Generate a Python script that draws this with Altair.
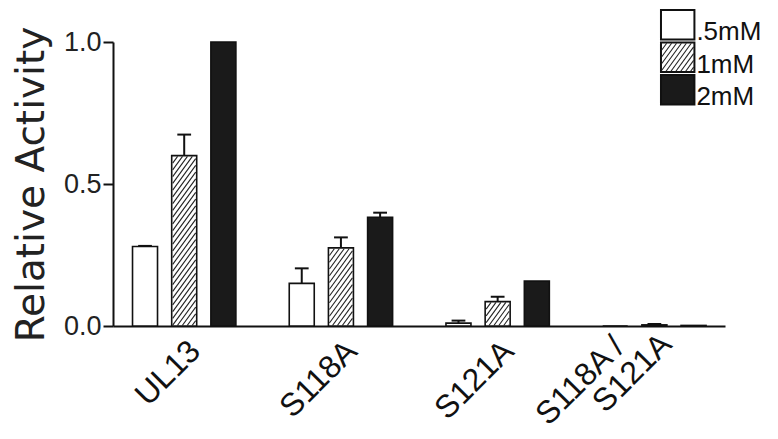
import altair as alt
import pandas as pd

# ---------------- data ----------------
categories = ["UL13", "S118A", "S121A", "S118A / S121A"]
series = [".5mM", "1mM", "2mM"]
values_05 = [0.280, 0.150, 0.010, 0.000]
values_1 = [0.600, 0.275, 0.086, 0.004]
values_2 = [1.000, 0.383, 0.158, 0.002]
errors_05 = [0.002, 0.053, 0.009, 0.000]
errors_1 = [0.074, 0.037, 0.017, 0.003]
errors_2 = [0.000, 0.016, 0.000, 0.000]
y_ticks = [0.0, 0.5, 1.0]
label_lines = [["UL13"], ["S118A"], ["S121A"], ["S118A /", "S121A"]]

# ---------------- geometry ----------------
W, H = 612, 284
X_DOMAIN = [-0.4224, 3.4187]
SX = W / (X_DOMAIN[1] - X_DOMAIN[0])
SY = H / 1.0
BAR_W = 25
IN_STEP = 0.25
BLACK = "#1a1a1a"
LINE = "#111111"


def px_to_x(px):
    return X_DOMAIN[0] + px / SX


def py_to_y(py):
    return 1.0 - py / SY


def hatch(x0, x1, y0, y1, k=1.35, p=5.0):
    """'/' hatch lines inside a pixel rect (y down), returned in data units."""
    out = []
    c = x0 - (y1 - y0) / k
    while c < x1:
        u0 = max(0.0, x0 - c)
        u1 = min((y1 - y0) / k, x1 - c)
        if u1 - u0 > 0.3:
            out.append({
                "hx": px_to_x(c + u0), "hy": py_to_y(y1 - k * u0),
                "hx2": px_to_x(c + u1), "hy2": py_to_y(y1 - k * u1),
            })
        c += p
    return out


vals = [values_05, values_1, values_2]
errs = [errors_05, errors_1, errors_2]
rows = []
for gi, cat in enumerate(categories):
    for si, s in enumerate(series):
        pos = gi + (si - 1) * IN_STEP
        v = vals[si][gi]
        e = errs[si][gi]
        rows.append({
            "category": cat, "series": s, "pos": pos, "value": v,
            "err": e, "top": v + e,
            "capL": pos - 7 / SX, "capR": pos + 7 / SX,
        })
df = pd.DataFrame(rows)
df_err = df[df["err"] > 0.0015]

# hatch lines for the 1mM bars
hrows = []
for r in rows:
    if r["series"] == "1mM" and r["value"] * SY > 2:
        cx = (r["pos"] - X_DOMAIN[0]) * SX
        hrows += hatch(cx - BAR_W / 2 + 0.8, cx + BAR_W / 2 - 0.8,
                       H - r["value"] * SY + 0.8, H - 0.5)
df_h = pd.DataFrame(hrows)

# x labels
lrows = []
for gi, lines in enumerate(label_lines):
    for li, t in enumerate(lines):
        if len(lines) == 1:
            dxp, dyp = 11, -2
        elif li == 0:
            dxp, dyp = -36, -6
        else:
            dxp, dyp = 12, -9
        lrows.append({"text": t, "lx": gi + dxp / SX, "ly": py_to_y(H + 22 + dyp)})
df_l = pd.DataFrame(lrows)

# legend
legrows, legtext, leghatch = [], [], []
box_x0, box_x1 = 552, 586
for si, s in enumerate(series):
    y0 = -32 + si * 32.5
    y1 = y0 + 29.5
    legrows.append({"series": s, "bx": px_to_x(box_x0), "bx2": px_to_x(box_x1),
                    "by": py_to_y(y0), "by2": py_to_y(y1)})
    legtext.append({"text": s, "tx": px_to_x(588), "ty": py_to_y(y1 + 0.5)})
    if s == "1mM":
        leghatch += hatch(box_x0 + 0.8, box_x1 - 0.8, y0 + 0.8, y1 - 0.8)
df_leg = pd.DataFrame(legrows)
df_legt = pd.DataFrame(legtext)
df_legh = pd.DataFrame(leghatch)

# ---------------- chart ----------------
xscale = alt.Scale(domain=X_DOMAIN, nice=False, zero=False)
yscale = alt.Scale(domain=[0, 1], nice=False, zero=False)
fillscale = alt.Scale(domain=series, range=["white", "white", BLACK])

x_axis = alt.Axis(title=None, labels=False, ticks=False, grid=False,
                  domainColor=LINE, domainWidth=2)
y_axis = alt.Axis(title="Relative Activity", values=y_ticks, format=".1f",
                  grid=False, domainColor=LINE, domainWidth=2,
                  tickColor=LINE, tickWidth=2, tickSize=10,
                  labelFont="Liberation Sans", labelFontSize=27,
                  labelColor="#222", labelPadding=2,
                  titleFont="DejaVu Sans", titleFontSize=39,
                  titleFontWeight="normal", titleColor="#222",
                  titlePadding=12)

bars = alt.Chart(df).mark_bar(size=BAR_W, stroke=LINE, strokeWidth=1.6).encode(
    x=alt.X("pos:Q", scale=xscale, axis=x_axis),
    y=alt.Y("value:Q", scale=yscale, axis=y_axis),
    fill=alt.Fill("series:N", scale=fillscale, legend=None),
)

hatch_l = alt.Chart(df_h).mark_rule(color="#222", strokeWidth=1.1).encode(
    x=alt.X("hx:Q", scale=xscale, axis=x_axis),
    y=alt.Y("hy:Q", scale=yscale, axis=y_axis),
    x2="hx2:Q", y2="hy2:Q",
)

err_l = alt.Chart(df_err).mark_rule(color=LINE, strokeWidth=2).encode(
    x=alt.X("pos:Q", scale=xscale, axis=x_axis),
    y=alt.Y("value:Q", scale=yscale, axis=y_axis),
    y2="top:Q",
)
cap_l = alt.Chart(df_err).mark_rule(color=LINE, strokeWidth=2).encode(
    x=alt.X("capL:Q", scale=xscale, axis=x_axis),
    x2="capR:Q",
    y=alt.Y("top:Q", scale=yscale, axis=y_axis),
)

lab_l = alt.Chart(df_l).mark_text(
    angle=315, align="right", baseline="middle",
    font="Liberation Sans", fontSize=32, color="#111",
).encode(
    x=alt.X("lx:Q", scale=xscale, axis=x_axis),
    y=alt.Y("ly:Q", scale=yscale, axis=y_axis),
    text="text:N",
)

leg_box = alt.Chart(df_leg).mark_rect(stroke=LINE, strokeWidth=2).encode(
    x=alt.X("bx:Q", scale=xscale, axis=x_axis), x2="bx2:Q",
    y=alt.Y("by:Q", scale=yscale, axis=y_axis), y2="by2:Q",
    fill=alt.Fill("series:N", scale=fillscale, legend=None),
)
leg_h = alt.Chart(df_legh).mark_rule(color="#222", strokeWidth=1.1).encode(
    x=alt.X("hx:Q", scale=xscale, axis=x_axis),
    y=alt.Y("hy:Q", scale=yscale, axis=y_axis),
    x2="hx2:Q", y2="hy2:Q",
)
leg_t = alt.Chart(df_legt).mark_text(
    align="left", baseline="alphabetic",
    font="Liberation Sans", fontSize=26, color="#111",
).encode(
    x=alt.X("tx:Q", scale=xscale, axis=x_axis),
    y=alt.Y("ty:Q", scale=yscale, axis=y_axis),
    text="text:N",
)

chart = alt.layer(bars, hatch_l, err_l, cap_l, lab_l, leg_box, leg_h, leg_t).properties(
    width=W, height=H,
    background="white",
    autosize=alt.AutoSizeParams(type="none"),
    padding={"left": 105, "top": 34, "right": 45, "bottom": 105},
).configure_view(stroke="transparent", strokeWidth=0)

chart.save("out.html", embed_options={"renderer": "svg", "actions": False})
